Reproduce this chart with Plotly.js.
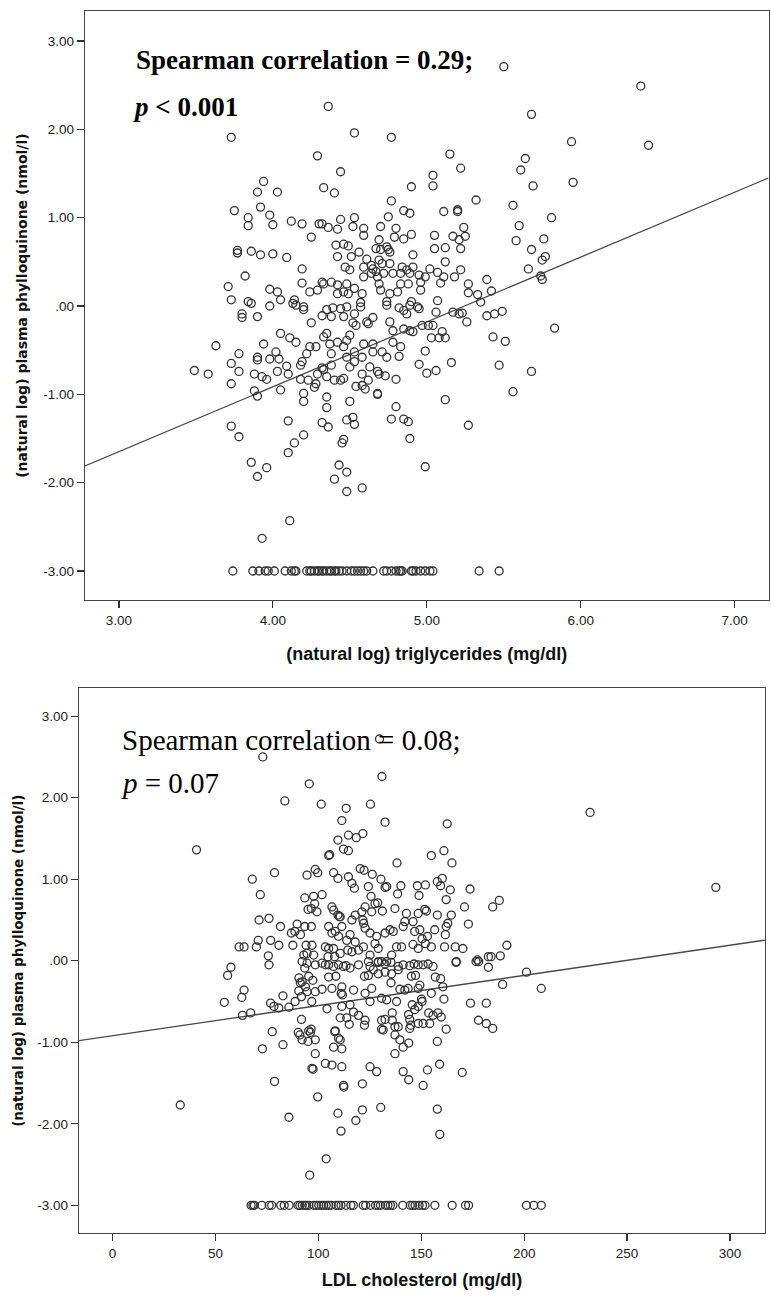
<!DOCTYPE html>
<html><head><meta charset="utf-8">
<script src="https://cdn.plot.ly/plotly-3.0.1.min.js"></script>
<style>html,body{margin:0;padding:0;background:#fff}#chart{width:771px;height:1298px}</style>
</head><body><div id="chart"></div>
<script>
// ---------- DATA ----------
const floorValue = -3.0;

// top panel: (natural log) triglycerides vs (natural log) plasma phylloquinone
const topPoints = [
[3.73,1.91],[4.53,1.96],[4.77,1.91],[4.29,1.70],[4.44,1.52],[5.15,1.72],[5.22,1.56],[5.04,1.48],[5.04,1.36],[4.90,1.35],[4.33,1.34],[4.40,1.28],[3.94,1.41],[3.90,1.29],[4.03,1.29],[5.32,1.20],[4.77,1.19],[4.85,1.08],[4.89,1.05],[5.11,1.07],[5.20,1.09],[5.20,1.07],[3.75,1.08],[3.84,1.00],[3.84,0.91],[3.92,1.12],[3.98,1.03],[4.00,0.92],[4.12,0.96],[4.19,0.93],[4.25,0.78],[4.30,0.93],[4.32,0.93],[4.36,0.89],[4.42,0.87],[4.44,0.98],[4.52,0.90],[4.53,1.00],[4.59,0.88],[4.59,0.80],[4.70,0.90],[4.75,1.01],[4.80,0.88],[4.79,0.78],[4.85,0.76],[4.90,0.81],[5.05,0.80],[5.17,0.79],[5.24,0.89],[5.25,0.79],[5.21,0.75],[5.22,0.65],[5.05,0.65],[5.12,0.66],[5.12,0.50],[5.22,0.41],[5.07,0.38],[5.11,0.33],[5.18,0.33],[5.27,0.25],[5.27,0.15],[5.33,0.13],[5.07,0.06],[3.77,0.63],[3.77,0.60],[3.86,0.62],[3.92,0.58],[4.00,0.59],[4.09,0.55],[4.19,0.42],[4.19,0.26],[3.82,0.34],[3.71,0.22],[3.73,0.07],[3.84,0.05],[3.86,0.03],[3.98,0.19],[4.03,0.16],[4.05,0.07],[3.98,0.00],[4.24,0.16],[4.32,0.27],[4.33,0.25],[4.38,0.27],[4.42,0.24],[4.41,0.69],[4.46,0.70],[4.49,0.68],[4.42,0.56],[4.47,0.44],[4.50,0.41],[4.51,0.56],[4.56,0.61],[4.59,0.44],[4.61,0.53],[4.67,0.65],[4.69,0.75],[4.70,0.64],[4.74,0.67],[4.75,0.64],[4.71,0.48],[4.65,0.42],[4.64,0.37],[4.68,0.33],[4.69,0.25],[4.70,0.18],[4.76,0.48],[4.78,0.37],[4.83,0.37],[4.84,0.44],[4.87,0.41],[4.89,0.37],[4.91,0.44],[4.91,0.58],[4.95,0.35],[4.96,0.18],[4.99,0.33],[5.02,0.42],[4.83,0.25],[4.88,0.25],[4.76,0.14],[4.81,0.16],[4.74,0.05],[4.58,0.14],[4.53,0.20],[4.48,0.25],[4.46,0.16],[4.49,0.14],[4.42,0.14],[4.29,0.18],[4.14,0.07],[4.59,0.33],[4.67,0.39],[4.72,0.37],[4.64,0.46],[4.76,0.61],[4.69,0.52],[4.57,0.04],[4.90,0.05],[4.96,0.27],[5.09,0.26],
[4.13,0.03],[4.15,0.01],[4.20,-0.01],[4.20,-0.04],[3.80,-0.09],[3.80,-0.13],[3.90,-0.12],[4.25,-0.19],[4.32,-0.11],[4.35,-0.04],[4.39,-0.02],[4.44,-0.03],[4.48,-0.01],[4.38,-0.12],[4.46,-0.12],[4.53,-0.09],[4.52,-0.19],[4.54,-0.22],[4.57,-0.01],[4.61,-0.18],[4.62,-0.20],[4.65,-0.13],[4.74,0.01],[4.76,-0.18],[4.82,-0.02],[4.85,-0.05],[4.87,-0.09],[4.89,0.01],[4.94,-0.01],[4.95,-0.03],[5.06,-0.07],[5.17,-0.07],[5.21,-0.09],[5.23,-0.08],[5.26,-0.18],[5.35,0.045],[4.78,-0.28],[4.85,-0.26],[4.89,-0.28],[4.91,-0.29],[4.97,-0.22],[5.01,-0.22],[5.04,-0.22],[5.03,-0.36],[5.08,-0.36],[5.10,-0.29],[5.12,-0.36],[4.05,-0.31],[4.11,-0.36],[4.15,-0.41],[3.94,-0.43],[3.63,-0.45],[3.78,-0.54],[3.73,-0.65],[3.49,-0.73],[3.58,-0.77],[3.78,-0.74],[3.73,-0.88],[3.90,-0.58],[3.90,-0.61],[3.98,-0.60],[4.02,-0.52],[4.04,-0.60],[3.88,-0.77],[3.93,-0.80],[3.96,-0.83],[4.03,-0.74],[4.09,-0.68],[4.10,-0.77],[3.88,-0.96],[3.90,-1.02],[4.05,-0.95],[4.18,-0.67],[4.19,-0.63],[4.24,-0.46],[4.28,-0.46],[4.22,-0.54],[4.18,-0.83],[4.23,-0.84],[4.28,-0.88],[4.27,-0.92],[4.29,-0.77],[4.32,-0.70],[4.33,-0.72],[4.33,-0.35],[4.35,-0.31],[4.37,-0.43],[4.38,-0.54],[4.38,-0.67],[4.35,-0.80],[4.40,-0.84],[4.44,-0.84],[4.46,-0.82],[4.42,-0.41],[4.46,-0.46],[4.48,-0.39],[4.50,-0.33],[4.48,-0.58],[4.53,-0.52],[4.50,-0.69],[4.53,-0.63],[4.59,-0.43],[4.58,-0.58],[4.65,-0.52],[4.71,-0.52],[4.74,-0.58],[4.65,-0.43],[4.78,-0.41],[4.83,-0.46],[4.82,-0.57],[4.63,-0.69],[4.68,-0.74],[4.69,-0.77],[4.58,-0.77],[4.54,-0.91],[4.58,-0.90],[4.60,-0.94],[4.62,-0.84],[4.68,-0.99],[4.68,-1.00],[4.73,-0.79],[4.80,-0.83],[4.99,-0.51],[4.95,-0.66],[5.00,-0.76],[5.06,-0.73],[5.16,-0.64],[5.12,-1.06],[5.27,-1.35],[4.20,-0.99],[4.20,-1.08],[4.35,-1.03],[4.35,-1.15],[4.50,-1.08],[4.80,-1.14],[3.73,-1.36],[3.78,-1.48],[4.10,-1.30],[4.20,-1.46],[4.14,-1.55],[4.10,-1.66],[4.32,-1.32],[4.36,-1.37],[4.48,-1.29],[4.52,-1.26],[4.53,-1.34],[4.46,-1.51],[4.45,-1.55],[4.77,-1.28],[4.85,-1.28],[4.88,-1.31],[4.89,-1.50],[3.86,-1.77],[3.90,-1.93],[3.96,-1.83],[4.43,-1.80],[4.48,-1.88],[4.40,-1.96],[4.99,-1.82],[4.58,-2.06],[4.48,-2.10],
[5.50,2.71],[6.39,2.49],[4.36,2.26],[5.68,2.17],[5.94,1.86],[6.44,1.82],[5.64,1.67],[5.61,1.54],[5.69,1.36],[5.95,1.40],[5.56,1.14],[5.60,0.91],[5.81,1.00],[5.58,0.74],[5.68,0.64],[5.76,0.76],[5.77,0.56],[5.75,0.52],[5.66,0.42],[5.74,0.34],[5.75,0.30],[5.39,0.30],[5.42,0.17],[5.39,-0.11],[5.44,-0.09],[5.49,-0.06],[5.83,-0.25],[5.43,-0.35],[5.51,-0.40],[5.47,-0.67],[5.68,-0.74],[5.56,-0.97],[3.93,-2.63],[4.11,-2.43]
];
// values at the detection floor (-3.00)
const topFloorX = [3.74,3.87,3.91,3.95,3.97,4.01,4.08,4.12,4.14,4.15,4.22,4.24,4.25,4.27,4.29,4.30,4.32,4.33,4.35,4.37,4.38,4.40,4.41,4.43,4.45,4.48,4.51,4.53,4.55,4.57,4.59,4.61,4.65,4.72,4.74,4.77,4.80,4.82,4.83,4.84,4.90,4.91,4.93,4.96,4.99,5.02,5.04,5.34,5.47];
const topFit = {slope: 0.734, intercept: -3.85};

// bottom panel: LDL cholesterol vs (natural log) plasma phylloquinone
const bottomPoints = [
[129.7,2.72],[73.0,2.50],[130.9,2.26],[40.8,1.36],[232.0,1.82],[293.1,0.90],[32.9,-1.77],[201.1,-0.14],[208.3,-0.34],[103.8,-2.43],[95.8,-2.63],[111.0,-2.09],[159.0,-2.13],
[95.6,2.17],[83.7,1.96],[101.4,1.92],[113.5,1.87],[125.3,1.92],[111.4,1.72],[132.4,1.70],[162.6,1.68],[109.5,1.48],[114.6,1.54],[118.4,1.51],[121.6,1.56],[112.2,1.37],[114.6,1.35],[105.0,1.29],[105.5,1.30],[138.2,1.20],[154.9,1.29],[161.0,1.35],[164.9,1.20],[67.9,1.00],[78.7,1.08],[71.8,0.81],[94.5,1.05],[98.5,1.12],[99.7,1.08],[107.4,1.08],[109.5,1.01],[114.6,1.03],[116.3,0.95],[117.5,0.89],[120.3,1.13],[122.2,1.11],[126.2,1.06],[130.4,1.00],[132.4,0.90],[133.2,0.91],[124.3,0.91],[125.6,0.79],[140.1,0.92],[138.5,0.82],[148.1,0.92],[152.0,0.93],[148.9,0.80],[157.8,0.97],[160.2,1.01],[159.4,0.92],[164.1,0.87],[173.7,0.88],[162.1,0.75],[171.0,0.66],[172.9,0.45],[184.7,0.66],[187.9,0.74],[191.6,0.19],[188.4,0.06],[182.6,0.05],[177.9,-0.01],[167.0,-0.01],[170.2,0.15],[166.5,0.17],[161.7,0.32],[162.1,0.42],[162.9,0.46],[164.6,0.56],[161.3,0.17],[157.8,0.56],[156.5,0.38],[151.7,0.63],[152.5,0.61],[148.5,0.58],[146.0,0.48],[142.8,0.58],[142.0,0.48],[137.2,0.64],[131.1,0.61],[127.5,0.70],[128.8,0.71],[125.9,0.60],[122.7,0.66],[121.1,0.60],[117.9,0.56],[116.3,0.50],[121.6,0.50],[122.0,0.46],[122.7,0.40],[125.1,0.34],[128.3,0.30],[132.4,0.34],[134.8,0.38],[136.4,0.36],[141.2,0.42],[146.8,0.36],[149.3,0.38],[150.4,0.27],[153.0,0.30],[152.0,0.21],[154.9,0.17],[148.5,0.15],[146.0,0.20],[140.4,0.17],[138.0,0.17],[135.6,0.07],[133.2,-0.01],[129.1,0.15],[127.5,0.21],[129.1,-0.01],[130.7,-0.01],[125.1,0.07],[121.9,0.17],[117.9,0.23],[115.4,0.32],[111.4,0.42],[110.6,0.54],[106.6,0.66],[107.4,0.62],[109.5,0.56],[110.2,0.54],[106.6,0.34],[105.0,0.42],[108.2,0.36],[109.8,0.30],[113.8,0.25],[114.3,0.13],[116.3,0.11],[119.5,0.13],[110.6,0.09],[107.4,0.15],[105.0,0.15],[103.4,0.17],[104.7,0.05],[107.9,0.05],[97.7,0.07],[94.5,0.09],[96.9,0.19],[94.0,0.19],[93.4,0.77],[97.7,0.79],[101.8,0.81],[98.2,0.70],[96.6,0.64],[99.3,0.60],[95.0,0.63],[89.7,0.45],[93.4,0.42],[96.6,0.42],[88.6,0.36],[86.9,0.34],[91.3,0.32],[87.6,0.19],[81.6,0.42],[80.8,0.19],[76.8,0.25],[70.8,0.25],[69.9,0.17],[61.5,0.17],[63.9,0.17],[76.0,0.52],[71.2,0.50],[75.7,0.06],[76.0,-0.05],[92.9,0.07],[103.4,-0.05],[124.3,-0.01],[177.3,0.01],[183.9,0.05],
[57.5,-0.08],[55.9,-0.18],[54.3,-0.51],[63.9,-0.36],[62.8,-0.45],[63.1,-0.67],[67.1,-0.64],[76.8,-0.52],[78.4,-0.56],[80.8,-0.58],[85.7,-0.57],[82.8,-0.43],[77.6,-0.87],[72.8,-1.08],[82.8,-1.03],[78.7,-1.48],[85.7,-1.92],[91.8,-0.72],[90.2,-0.88],[91.0,-0.91],[92.1,-0.97],[95.3,-0.86],[96.5,-0.84],[96.1,-0.88],[98.5,-0.97],[95.0,-0.99],[98.5,-1.14],[96.9,-1.32],[97.4,-1.33],[99.7,-1.67],[92.1,-0.01],[93.4,-0.09],[92.1,-0.26],[93.7,-0.32],[91.8,-0.44],[94.5,-0.38],[97.3,-0.24],[98.5,-0.38],[101.8,-0.35],[95.3,-0.19],[105.0,-0.20],[108.5,-0.19],[106.6,-0.34],[111.4,-0.32],[111.7,-0.42],[111.1,-0.40],[104.2,-0.59],[111.4,-0.56],[115.4,-0.54],[110.6,-0.70],[113.8,-0.70],[115.0,-0.78],[117.1,-0.63],[119.5,-0.67],[122.7,-0.73],[122.4,-0.79],[108.2,-0.86],[108.0,-0.87],[109.8,-0.95],[110.6,-0.97],[107.4,-1.06],[111.4,-1.08],[103.4,-1.26],[106.6,-1.28],[111.4,-1.30],[112.2,-1.53],[112.4,-1.55],[121.4,-1.51],[125.1,-1.30],[128.3,-1.36],[130.3,-1.80],[121.4,-1.83],[109.5,-1.87],[118.2,-1.96],[117.1,-0.36],[122.7,-0.40],[125.9,-0.34],[122.4,-0.19],[124.3,-0.18],[126.7,-0.11],[129.1,-0.16],[132.4,-0.14],[135.6,-0.16],[138.8,-0.11],[135.3,-0.27],[125.1,-0.50],[130.7,-0.46],[133.2,-0.48],[138.0,-0.50],[135.9,-0.64],[130.7,-0.73],[132.4,-0.72],[131.5,-0.85],[130.7,-0.84],[135.9,-0.73],[137.2,-0.81],[138.8,-0.81],[137.2,-0.91],[139.6,-0.97],[141.2,-1.06],[143.9,-1.01],[137.2,-1.14],[141.2,-1.36],[143.9,-1.46],[139.6,-0.35],[142.0,-0.36],[143.6,-0.34],[141.2,-0.05],[144.4,-0.06],[146.5,-0.04],[148.5,-0.05],[150.9,-0.05],[153.3,-0.04],[155.7,-0.07],[145.2,-0.19],[147.2,-0.18],[149.3,-0.30],[148.5,-0.34],[145.6,-0.54],[146.8,-0.60],[148.5,-0.56],[150.1,-0.47],[150.4,-0.50],[144.4,-0.72],[144.9,-0.79],[144.4,-0.83],[148.5,-0.77],[150.9,-0.77],[154.1,-0.77],[153.6,-0.64],[155.7,-0.67],[158.1,-0.64],[159.7,-0.69],[154.9,-0.40],[156.8,-0.20],[159.4,-0.22],[160.5,-0.32],[162.1,-0.84],[157.8,-0.99],[158.9,-1.27],[153.0,-1.34],[150.9,-1.53],[157.8,-1.82],[161.0,-0.47],[169.9,-1.37],[166.9,-0.02],[173.9,-0.52],[181.6,-0.52],[177.8,-0.73],[181.6,-0.77],[184.7,-0.83],[189.5,-0.29],[176.6,-0.01],[182.6,-0.08],[94.5,-0.03],[98.5,-0.05],[101.8,-0.03],[105.0,-0.05],[107.4,-0.07],[109.8,-0.05],[112.2,-0.07],[113.4,-0.06],[115.4,-0.09],[119.5,-0.05],[125.1,-0.07],[129.1,-0.02],[132.4,-0.04],[135.3,-0.02],[138.8,-0.07],[90.6,-0.21],[91.2,-0.27],[90.5,-0.37],[96.8,-0.50],[88.7,-0.50],[143.8,-0.66]
];
const bottomFloorX = [67.3,68.2,68.9,72.5,76.1,77.3,81.7,83.4,85.8,90.1,91.0,92.2,93.4,94.2,95.4,97.8,99.0,100.2,101.4,102.6,103.8,105.0,106.2,108.6,109.8,111.0,113.4,115.8,117.0,121.8,123.0,125.4,127.8,129.0,130.2,132.6,133.8,135.0,136.2,141.0,144.6,145.8,147.0,148.9,150.6,151.8,156.6,165.0,171.5,173.0,201.1,204.7,208.3];
const bottomFit = {slope: 0.0037, intercept: -0.92};

// tick labels
const yTickVals = [3, 2, 1, 0, -1, -2, -3];
const yTickText = ['3.00', '2.00', '1.00', '.00', '-1.00', '-2.00', '-3.00'];
const topXTickVals = [3, 4, 5, 6, 7];
const topXTickText = ['3.00', '4.00', '5.00', '6.00', '7.00'];
const bottomXTickVals = [0, 50, 100, 150, 200, 250, 300];
const bottomXTickText = ['0', '50', '100', '150', '200', '250', '300'];

// ---------- STYLE ----------
const topXRange = [2.78, 7.22], topYRange = [-3.33, 3.34];
const botXRange = [-16.3, 317], botYRange = [-3.34, 3.34];
const sans = '"Liberation Sans", Arial, sans-serif';
const markerStyle = {symbol: 'circle-open', size: 8, color: '#333', line: {width: 1.3, color: '#333'}};
const lineStyle = {color: '#4a4a4a', width: 1.3};

function scatter(points, floorX, xa, ya) {
  const xs = points.map(p => p[0]).concat(floorX);
  const ys = points.map(p => p[1]).concat(floorX.map(() => floorValue));
  return {type: 'scatter', mode: 'markers', x: xs, y: ys, xaxis: xa, yaxis: ya,
          marker: markerStyle, hoverinfo: 'skip'};
}
function fit(f, range, xa, ya) {
  return {type: 'scatter', mode: 'lines', x: range, y: range.map(x => f.intercept + f.slope * x),
          xaxis: xa, yaxis: ya, line: lineStyle, hoverinfo: 'skip'};
}

const data = [
  fit(topFit, topXRange, 'x', 'y'),
  scatter(topPoints, topFloorX, 'x', 'y'),
  fit(bottomFit, botXRange, 'x2', 'y2'),
  scatter(bottomPoints, bottomFloorX, 'x2', 'y2')
];

const W = 771, H = 1298;
const L = 79, R = 2, T = 11, B = 65.3;
const pw = W - L - R, ph = H - T - B;
const px = v => (v - L) / pw;             // pixel -> paper x
const py = v => (H - B - v) / ph;         // pixel -> paper y

function yAxisCfg(domain, range, anchor, standoff, fs) {
  return {domain, range, anchor, tickvals: yTickVals, ticktext: yTickText,
    ticks: 'outside', ticklen: 7, tickcolor: '#333', tickwidth: 1.3,
    showline: true, mirror: true, linecolor: '#444', linewidth: 1.3,
    showgrid: false, zeroline: false, fixedrange: true,
    tickfont: {family: sans, size: 13.5, color: '#222'},
    title: {text: '(natural log) plasma phylloquinone (nmol/l)', standoff,
            font: {family: '"DejaVu Sans", sans-serif', size: fs, color: '#111', weight: 'bold'}}};
}
function xAxisCfg(domain, range, anchor, tv, tt, title, standoff) {
  return {domain, range, anchor, tickvals: tv, ticktext: tt,
    ticks: 'outside', ticklen: 7, tickcolor: '#333', tickwidth: 1.3,
    showline: true, mirror: true, linecolor: '#444', linewidth: 1.3,
    showgrid: false, zeroline: false, fixedrange: true,
    tickfont: {family: sans, size: 13.5, color: '#222'},
    title: {text: title, standoff,
            font: {family: sans, size: 18, color: '#111', weight: 'bold'}}};
}

const serif = '"Liberation Serif", "Times New Roman", serif';
const annTop = {family: serif, size: 27, color: '#000', weight: 'bold'};
const annBot = {family: serif, size: 29, color: '#000'};

const layout = {
  width: W, height: H, margin: {l: L, r: R, t: T, b: B},
  paper_bgcolor: '#fff', plot_bgcolor: '#fff', showlegend: false,
  xaxis: xAxisCfg([px(85), px(768.6)], topXRange, 'y', topXTickVals, topXTickText,
                  '(natural log) triglycerides (mg/dl)', 20),
  yaxis: yAxisCfg([py(600), py(11)], topYRange, 'x', 12, 14),
  xaxis2: xAxisCfg([px(79), px(765)], botXRange, 'y2', bottomXTickVals, bottomXTickText,
                   'LDL cholesterol (mg/dl)', 14),
  yaxis2: yAxisCfg([py(1232.7), py(688.3)], botYRange, 'x2', 10, 13.5),
  annotations: [
    {xref: 'x', yref: 'y', x: 3.10, y: 2.78, xanchor: 'left', yanchor: 'middle', showarrow: false,
     text: 'Spearman correlation = 0.29;', font: annTop},
    {xref: 'x', yref: 'y', x: 3.08, y: 2.25, xanchor: 'left', yanchor: 'middle', showarrow: false,
     text: '<i>p</i> &lt; 0.001', font: annTop},
    {xref: 'x2', yref: 'y2', x: 3.5, y: 2.71, xanchor: 'left', yanchor: 'middle', showarrow: false,
     text: 'Spearman correlation = 0.08;', font: annBot},
    {xref: 'x2', yref: 'y2', x: 3.0, y: 2.18, xanchor: 'left', yanchor: 'middle', showarrow: false,
     text: '<i>p</i> = 0.07', font: annBot}
  ]
};

Plotly.newPlot('chart', data, layout, {staticPlot: true, displayModeBar: false});
</script></body></html>
